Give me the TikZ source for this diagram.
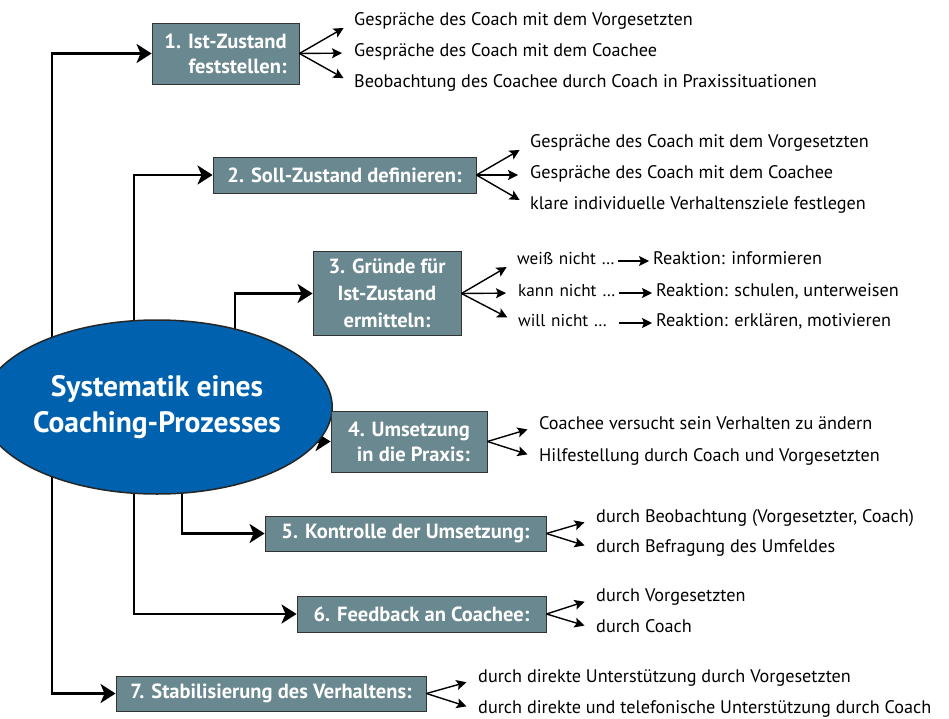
\documentclass[tikz,border=0pt]{standalone}
\usepackage{fontspec}
\setmainfont{PT Sans}
\usetikzlibrary{arrows.meta, positioning, shapes.geometric, backgrounds}
\definecolor{boxgray}{RGB}{106,136,143}
\definecolor{ellblue}{RGB}{0,98,174}

\begin{document}
\begin{tikzpicture}[x=1pt, y=-1pt,
        trunktip/.tip={Stealth[length=15pt, width=19pt, inset=4pt]},
        fantip/.tip={Stealth[length=10pt, width=10pt, inset=2pt]},
        phase/.style={draw=black!80, line width=0.9pt, fill=boxgray, text=white, inner sep=0pt, font=\fontsize{20.5}{25}\selectfont\bfseries},
        item/.style={anchor=west, inner sep=0pt, text height=0.7em, text depth=0pt, font=\fontsize{18.2}{20}\selectfont},
        cause/.style={item, text width=101pt, font=\fontsize{17.2}{20}\selectfont},
        trunk/.style={line width=2.8pt, -trunktip},
        fan/.style={line width=1.4pt, -fantip, shorten >=12pt},
        react/.style={line width=1.4pt, -fantip, shorten >=4pt}
    ]
        \useasboundingbox (0,0) rectangle (949,719);

        % Centre
            \node[ellipse, draw=black!85, line width=1.5pt, fill=ellblue, minimum width=294pt, minimum height=174pt, inner sep=0pt, text=white, align=center, font=\fontsize{29.5}{36}\selectfont\bfseries] (systematik) at (157,407) {Systematik eines\\Coaching-Prozesses};

        % Phases
            \node[phase, minimum width=147pt, minimum height=61pt, align=right] (box1) at (225.5,53.5) {1. Ist-Zustand\\feststellen:};
            \node[phase, minimum width=263pt, minimum height=36pt] (box2) at (344.5,175) {2. Soll-Zustand definieren:};
            \node[phase, minimum width=148pt, minimum height=84pt, align=center, font=\fontsize{20.5}{27}\selectfont\bfseries] (box3) at (387,293.5) {3. Gründe für\\Ist-Zustand\\ermitteln:};
            \node[phase, minimum width=156pt, minimum height=61pt, align=right] (box4) at (409,441.5) {4. Umsetzung\\in die Praxis:};
            \node[phase, minimum width=281pt, minimum height=35pt] (box5) at (405.5,533.5) {5. Kontrolle der Umsetzung:};
            \node[phase, minimum width=249pt, minimum height=36pt] (box6) at (421.5,614) {6. Feedback an Coachee:};
            \node[phase, minimum width=310pt, minimum height=35pt] (box7) at (271,693.5) {7. Stabilisierung des Verhaltens:};

        % Trunk lines
            \coordinate (lA) at (52,407);
            \coordinate (lB) at (134,407);
            \coordinate (l3) at (235,407);
            \coordinate (l4) at (157,441.5);
            \coordinate (l5) at (182,407);
            \begin{scope}[on background layer]
                \draw[trunk, trunktip-trunktip] (box1.west) -| (lA) |- (box7.west);
                \draw[trunk, trunktip-trunktip] (box2.west) -| (lB) |- (box6.west);
                \draw[trunk] (l3) |- (box3.west);
                \draw[trunk] (l4) -- (box4.west);
                \draw[trunk] (l5) |- (box5.west);
            \end{scope}

        % Items
            \node[item] (i11) at (354,22) {Gespräche des Coach mit dem Vorgesetzten};
            \node[item] (i12) at (354,53) {Gespräche des Coach mit dem Coachee};
            \node[item] (i13) at (354,84) {Beobachtung des Coachee durch Coach in Praxissituationen};
            \node[item] (i21) at (530,144) {Gespräche des Coach mit dem Vorgesetzten};
            \node[item] (i22) at (530,175) {Gespräche des Coach mit dem Coachee};
            \node[item] (i23) at (530,206) {klare individuelle Verhaltensziele festlegen};
            \node[cause] (i31) at (517,261) {\mbox{weiß nicht …}};
            \node[cause] (i32) at (518,293) {\mbox{kann nicht …}};
            \node[cause] (i33) at (518,323) {\mbox{will nicht …}};
            \node[item] (r31) at (653,261) {Reaktion: informieren};
            \node[item] (r32) at (656,293) {Reaktion: schulen, unterweisen};
            \node[item] (r33) at (656,323) {Reaktion: erklären, motivieren};
            \node[item] (i41) at (539,426) {Coachee versucht sein Verhalten zu ändern};
            \node[item] (i42) at (539,458) {Hilfestellung durch Coach und Vorgesetzten};
            \node[item] (i51) at (596,519) {durch Beobachtung (Vorgesetzter, Coach)};
            \node[item] (i52) at (596,549) {durch Befragung des Umfeldes};
            \node[item] (i61) at (596,598) {durch Vorgesetzten};
            \node[item] (i62) at (596,629) {durch Coach};
            \node[item] (i71) at (478,679) {durch direkte Unterstützung durch Vorgesetzten};
            \node[item] (i72) at (478,710) {durch direkte und telefonische Unterstützung durch Coach};

        % Fan arrows
            \foreach \b/\i in {box1/i11, box1/i12, box1/i13, box2/i21, box2/i22, box2/i23,
                               box3/i31, box3/i32, box3/i33, box4/i41, box4/i42,
                               box5/i51, box5/i52, box6/i61, box6/i62, box7/i71, box7/i72}
                \draw[fan] (\b.east) -- (\i.west);
            \foreach \n in {1,2,3}
                \draw[react] (i3\n.east) -- (r3\n.west);
    \end{tikzpicture}
\end{document}
